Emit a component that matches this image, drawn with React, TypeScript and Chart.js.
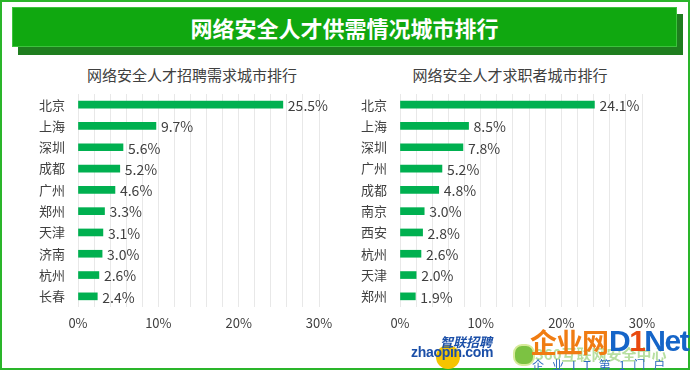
import React, { useEffect, useRef } from "react";
import { Chart, registerables } from "chart.js";

Chart.register(...registerables);

const mainTitle = "网络安全人才供需情况城市排行";
const leftTitle = "网络安全人才招聘需求城市排行";
const rightTitle = "网络安全人才求职者城市排行";

const leftCities = ["北京", "上海", "深圳", "成都", "广州", "郑州", "天津", "济南", "杭州", "长春"];
const leftValues = [25.5, 9.7, 5.6, 5.2, 4.6, 3.3, 3.1, 3.0, 2.6, 2.4];

const rightCities = ["北京", "上海", "深圳", "广州", "成都", "南京", "西安", "杭州", "天津", "郑州"];
const rightValues = [24.1, 8.5, 7.8, 5.2, 4.8, 3.0, 2.8, 2.6, 2.0, 1.9];

const axisMin = 0;
const axisMax = 30;
const gridStep = 2;
const labelStep = 10;

const FONT = '"Noto Sans CJK SC", "Noto Sans", sans-serif';
const TEXT = "#404040";
const BAR = "#00b050";

const valueLabels = {
  id: "valueLabels",
  afterDatasetsDraw(chart: any) {
    const ctx = chart.ctx;
    const meta = chart.getDatasetMeta(0);
    const data = chart.data.datasets[0].data as number[];
    ctx.save();
    ctx.font = `14px ${FONT}`;
    ctx.fillStyle = TEXT;
    ctx.textAlign = "left";
    ctx.textBaseline = "middle";
    meta.data.forEach((el: any, i: number) => {
      ctx.fillText(data[i].toFixed(1) + "%", el.x + 5, el.y + 1);
    });
    ctx.restore();
  },
};

function BarChart(props: {
  cities: string[];
  values: number[];
  left: number;
  top: number;
  width: number;
  height: number;
  yWidth: number;
  padRight: number;
}) {
  const ref = useRef<HTMLCanvasElement | null>(null);
  useEffect(() => {
    if (!ref.current) return;
    const chart = new Chart(ref.current, {
      type: "bar",
      data: {
        labels: props.cities,
        datasets: [
          {
            data: props.values,
            backgroundColor: BAR,
            borderWidth: 0,
            barThickness: 7,
          },
        ],
      },
      options: {
        indexAxis: "y",
        animation: false,
        responsive: false,
        layout: { padding: { top: 9, right: props.padRight, left: 0, bottom: 0 } },
        plugins: {
          legend: { display: false },
          tooltip: { enabled: false },
          title: { display: false },
        },
        scales: {
          x: {
            min: axisMin,
            max: axisMax,
            border: { display: false },
            grid: { color: "#e8e8e8", drawTicks: false, lineWidth: 1 },
            ticks: {
              stepSize: gridStep,
              padding: 8,
              autoSkip: false,
              maxRotation: 0,
              color: TEXT,
              font: { family: FONT, size: 13 },
              callback: (v: any) => (Number(v) % labelStep === 0 ? `${v}%` : ""),
            },
            afterFit: (s: any) => {
              s.height = 30;
            },
          },
          y: {
            border: { display: false },
            grid: {
              display: true,
              drawOnChartArea: false,
              drawTicks: true,
              tickLength: 13,
              tickColor: "rgba(0,0,0,0)",
            },
            ticks: {
              padding: 0,
              color: TEXT,
              font: { family: FONT, size: 13 },
            },
            afterFit: (s: any) => {
              s.width = props.yWidth;
            },
          },
        },
      },
      plugins: [valueLabels],
    });
    return () => chart.destroy();
  }, []);
  return (
    <canvas
      ref={ref}
      width={props.width}
      height={props.height}
      style={{ position: "absolute", left: props.left, top: props.top, width: props.width, height: props.height }}
    />
  );
}

export default function App() {
  return (
    <div
      style={{
        position: "absolute",
        left: 0,
        top: 0,
        width: 690,
        height: 370,
        background: "#ffffff",
        overflow: "hidden",
        fontFamily: FONT,
      }}
    >
      {/* outer frame */}
      <div
        style={{
          position: "absolute",
          left: 0,
          top: 0,
          width: 686,
          height: 366,
          border: "2px solid #2ab52a",
        }}
      />
      {/* banner shadow */}
      <div style={{ position: "absolute", left: 18, top: 14, width: 665, height: 41, background: "#1f7d1f" }} />
      {/* banner */}
      <div
        style={{
          position: "absolute",
          left: 12,
          top: 7,
          width: 665,
          height: 40,
          background: "#10a810",
          boxShadow: "inset 0 0 0 1px #3cc33c",
        }}
      />
      <div
        style={{
          position: "absolute",
          left: 12,
          top: 7,
          width: 665,
          height: 40,
          lineHeight: "40px",
          textAlign: "center",
          color: "#ffffff",
          fontWeight: "bold",
          fontSize: 22,
          fontFamily: FONT,
        }}
      >
        {mainTitle}
      </div>
      {/* sub titles */}
      <div
        style={{
          position: "absolute",
          left: 87,
          top: 64,
          width: 200,
          textAlign: "center",
          fontSize: 15,
          color: TEXT,
          whiteSpace: "nowrap",
          lineHeight: "22px",
        }}
      >
        {leftTitle}
      </div>
      <div
        style={{
          position: "absolute",
          left: 410,
          top: 64,
          width: 200,
          textAlign: "center",
          fontSize: 15,
          color: TEXT,
          whiteSpace: "nowrap",
          lineHeight: "22px",
        }}
      >
        {rightTitle}
      </div>

      <BarChart cities={leftCities} values={leftValues} left={0} top={85} width={345} height={252} yWidth={78} padRight={26} />
      <BarChart cities={rightCities} values={rightValues} left={345} top={85} width={345} height={252} yWidth={55} padRight={48} />

      {/* logos / watermarks */}
      <div style={{ position: "absolute", left: 436, top: 345, width: 24, height: 24, borderRadius: 12, background: "#f5c400" }} />
      <div
        style={{
          position: "absolute",
          left: 440,
          top: 334,
          fontSize: 13,
          fontStyle: "italic",
          fontWeight: "bold",
          color: "#1b4fa8",
          lineHeight: "16px",
        }}
      >
        智联招聘
      </div>
      <div
        style={{
          position: "absolute",
          left: 411,
          top: 344,
          fontSize: 14,
          fontWeight: "bold",
          color: "#1b4fa8",
          fontFamily: '"Liberation Sans", sans-serif',
          lineHeight: "16px",
          letterSpacing: -0.3,
        }}
      >
        zhaopin.com
      </div>
      <div style={{ position: "absolute", left: 513, top: 344, width: 18, height: 18, borderRadius: 9, background: "#7cc242", border: "2px solid #d7eb9a" }} />
      <div
        style={{
          position: "absolute",
          left: 535,
          top: 346,
          fontSize: 15,
          fontWeight: "bold",
          color: "#b7dfa0",
          lineHeight: "16px",
          whiteSpace: "nowrap",
        }}
      >
        360互联网安全中心
      </div>
      <div
        style={{
          position: "absolute",
          left: 530,
          top: 327,
          fontSize: 27,
          fontWeight: "bold",
          color: "#f07c12",
          lineHeight: "30px",
          whiteSpace: "nowrap",
          letterSpacing: -1,
        }}
      >
        企业网
      </div>
      <div
        style={{
          position: "absolute",
          left: 609,
          top: 326,
          fontSize: 30,
          fontWeight: "bold",
          color: "#1565c8",
          lineHeight: "30px",
          whiteSpace: "nowrap",
          fontFamily: '"Liberation Sans", sans-serif',
          letterSpacing: -1.5,
        }}
      >
        D<span style={{ color: "#e84a10" }}>1</span>Net
      </div>
      <div
        style={{
          position: "absolute",
          left: 532,
          top: 358,
          fontSize: 12,
          color: "#2f6cc0",
          lineHeight: "14px",
          whiteSpace: "nowrap",
          letterSpacing: 8,
        }}
      >
        企业IT第1门户
      </div>
    </div>
  );
}
